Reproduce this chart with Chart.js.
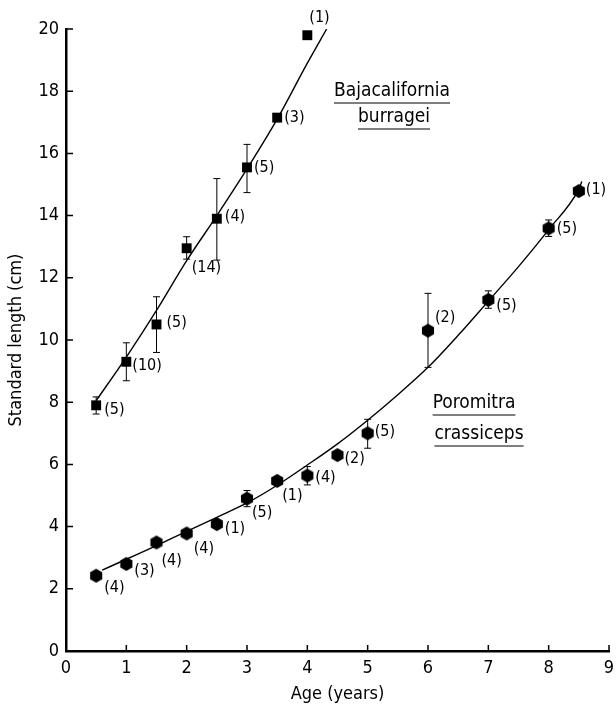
<!DOCTYPE html>
<html>
<head>
<meta charset="utf-8">
<script src="https://cdn.jsdelivr.net/npm/chart.js@4.4.1/dist/chart.umd.min.js"></script>
<style>
  html, body { margin: 0; padding: 0; background: #fff; }
  #wrap { width: 616px; height: 708px; }
</style>
</head>
<body>
<div id="wrap"><canvas id="myChart" width="616" height="708"></canvas></div>
<script>
// ---- data ----
const xTicks = [0, 1, 2, 3, 4, 5, 6, 7, 8, 9]
const yTicks = [0, 2, 4, 6, 8, 10, 12, 14, 16, 18, 20]

// Bajacalifornia burragei (squares)
const bajaAge = [0.5, 1, 1.5, 2, 2.5, 3, 3.5, 4]
const bajaLen = [7.9, 9.3, 10.5, 12.95, 13.9, 15.55, 17.15, 19.8]
const bajaHi  = [8.17, 9.91, 11.39, 13.32, 15.19, 16.29, null, null]
const bajaLo  = [7.62, 8.69, 9.6, 12.6, 12.57, 14.74, null, null]
const bajaN   = ["(5)", "(10)", "(5)", "(14)", "(4)", "(5)", "(3)", "(1)"]
// fitted line as drawn
const bajaFitX = [0.5, 1, 1.5, 2, 2.5, 3, 3.5, 4, 4.32]
const bajaFitY = [8.05, 9.45, 10.95, 12.55, 14.0, 15.5, 17.1, 18.9, 20]

// Poromitra crassiceps (hexagons)
const poroAge = [0.5, 1, 1.5, 2, 2.5, 3, 3.5, 4, 4.5, 5, 6, 7, 8, 8.5]
const poroLen = [2.42, 2.8, 3.49, 3.78, 4.08, 4.9, 5.47, 5.64, 6.3, 7.0, 10.3, 11.29, 13.59, 14.79]
const poroHi  = [null, null, null, null, null, 5.16, null, 5.93, null, 7.45, 11.5, 11.58, 13.86, null]
const poroLo  = [null, null, null, null, null, 4.64, null, 5.34, null, 6.52, 9.12, 11.02, 13.33, null]
const poroN   = ["(4)", "(3)", "(4)", "(4)", "(1)", "(5)", "(1)", "(4)", "(2)", "(5)", "(2)", "(5)", "(5)", "(1)"]
const poroFitX = [0.6, 1, 1.5, 2, 2.5, 3, 3.5, 4, 4.5, 5, 5.5, 6, 6.5, 7, 7.5, 8, 8.5, 8.55]
const poroFitY = [2.6, 2.95, 3.39, 3.85, 4.3, 4.76, 5.33, 5.98, 6.66, 7.42, 8.24, 9.12, 10.15, 11.25, 12.36, 13.55, 14.85, 15.1]

// label offsets (px) from marker centre
const bajaOff = [[8,5],[6,4],[10,-2],[5,20],[8,-2],[7,0],[7,0],[2,-17]]
const poroOff = [[8,12],[8,7],[5,18],[7,15],[8,5],[5,14],[5,15],[8,2],[7,4],[7,-1],[7,-13],[8,6],[8,0],[7,-1]]

const FONT = '"DejaVu Sans Condensed", "DejaVu Sans", sans-serif'

function pts(xs, ys) {
    return xs.map((x, i) => ({x: x, y: ys[i]}))
}

// hexagon marker
function hexagon(r) {
    const c = document.createElement('canvas')
    c.width = c.height = r * 2 + 2
    const g = c.getContext('2d')
    g.beginPath()
    for (let i = 0; i < 6; i++) {
        const a = Math.PI / 6 + i * Math.PI / 3
        const px = r + 1 + r * Math.cos(a), py = r + 1 + r * Math.sin(a)
        i ? g.lineTo(px, py) : g.moveTo(px, py)
    }
    g.closePath()
    g.fillStyle = '#000'
    g.fill()
    return c
}

const extras = {
    id: 'extras',
    afterDatasetsDraw(chart) {
        const c = chart.ctx
        const xs = chart.scales.x, ys = chart.scales.y
        const area = chart.chartArea
        c.save()
        c.strokeStyle = '#000'
        c.fillStyle = '#000'

        // inward ticks
        c.lineWidth = 1.5
        c.beginPath()
        yTicks.forEach(v => {
            const py = ys.getPixelForValue(v)
            c.moveTo(area.left, py); c.lineTo(area.left + 7, py)
        })
        xTicks.forEach(v => {
            const px = xs.getPixelForValue(v)
            c.moveTo(px, area.bottom); c.lineTo(px, area.bottom - 6)
        })
        c.stroke()

        // error bars
        c.lineWidth = 1
        const bars = (age, hi, lo) => {
            age.forEach((a, i) => {
                if (hi[i] == null) return
                const px = xs.getPixelForValue(a)
                const p1 = ys.getPixelForValue(hi[i]), p2 = ys.getPixelForValue(lo[i])
                c.beginPath()
                c.moveTo(px, p1); c.lineTo(px, p2)
                c.moveTo(px - 3.5, p1); c.lineTo(px + 3.5, p1)
                c.moveTo(px - 3.5, p2); c.lineTo(px + 3.5, p2)
                c.stroke()
            })
        }
        bars(bajaAge, bajaHi, bajaLo)
        bars(poroAge, poroHi, poroLo)

        // sample sizes
        c.font = '16px ' + FONT
        c.textAlign = 'left'
        c.textBaseline = 'middle'
        const labels = (age, len, n, off) => {
            age.forEach((a, i) => {
                c.fillText(n[i], xs.getPixelForValue(a) + off[i][0], ys.getPixelForValue(len[i]) + off[i][1])
            })
        }
        labels(bajaAge, bajaLen, bajaN, bajaOff)
        labels(poroAge, poroLen, poroN, poroOff)

        // species names, underlined
        c.font = '19px ' + FONT
        c.textAlign = 'center'
        c.textBaseline = 'alphabetic'
        c.lineWidth = 1.2
        const name = (txt, cx, by) => {
            c.fillText(txt, cx, by)
            const w = c.measureText(txt).width
            c.beginPath()
            c.moveTo(cx - w / 2, by + 7); c.lineTo(cx + w / 2, by + 7)
            c.stroke()
        }
        name('Bajacalifornia', 392, 96)
        name('burragei', 394, 122)
        name('Poromitra', 474, 408)
        name('crassiceps', 479, 439)
        c.restore()
    }
}

const ctx = document.getElementById('myChart')

const data = {
    datasets: [
        {
            type: 'line',
            data: pts(bajaFitX, bajaFitY),
            borderColor: '#000',
            borderWidth: 1.4,
            pointRadius: 0,
            cubicInterpolationMode: 'monotone',
            fill: false
        },
        {
            type: 'line',
            data: pts(poroFitX, poroFitY),
            borderColor: '#000',
            borderWidth: 1.4,
            pointRadius: 0,
            cubicInterpolationMode: 'monotone',
            fill: false
        },
        {
            type: 'scatter',
            data: pts(bajaAge, bajaLen),
            pointStyle: 'rect',
            pointRadius: 7,
            backgroundColor: '#000',
            borderColor: '#000',
            borderWidth: 0
        },
        {
            type: 'scatter',
            data: pts(poroAge, poroLen),
            pointStyle: hexagon(7),
            backgroundColor: '#000'
        }
    ]
}

const config = {
    type: 'scatter',
    data: data,
    plugins: [extras],
    options: {
        responsive: false,
        animation: false,
        layout: { padding: { top: 29, right: 1, left: 0, bottom: 0 } },
        plugins: { legend: { display: false }, tooltip: { enabled: false } },
        scales: {
            x: {
                type: 'linear',
                min: 0, max: 9,
                afterBuildTicks: s => { s.ticks = xTicks.map(v => ({value: v})) },
                afterFit: s => { s.height = 57; s.paddingLeft = 0; s.paddingRight = 0 },
                grid: { display: true, drawOnChartArea: false, drawTicks: false },
                border: { display: true, color: '#000', width: 2.5 },
                ticks: { color: '#000', font: { family: FONT, size: 18 }, padding: 7, maxRotation: 0 },
                title: { display: true, text: 'Age (years)', color: '#000', font: { family: FONT, size: 18 }, padding: { top: 0, bottom: 3 } }
            },
            y: {
                type: 'linear',
                min: 0, max: 20,
                afterBuildTicks: s => { s.ticks = yTicks.map(v => ({value: v})) },
                afterFit: s => { s.width = 66; s.paddingTop = 0; s.paddingBottom = 0 },
                grid: { display: true, drawOnChartArea: false, drawTicks: false },
                border: { display: true, color: '#000', width: 2.5 },
                ticks: { color: '#000', font: { family: FONT, size: 18 }, padding: 7 },
                title: { display: true, text: 'Standard length (cm)', color: '#000', font: { family: FONT, size: 18 }, padding: { top: 6, bottom: 0 } }
            }
        }
    }
}

new Chart(ctx, config)
</script>
</body>
</html>
